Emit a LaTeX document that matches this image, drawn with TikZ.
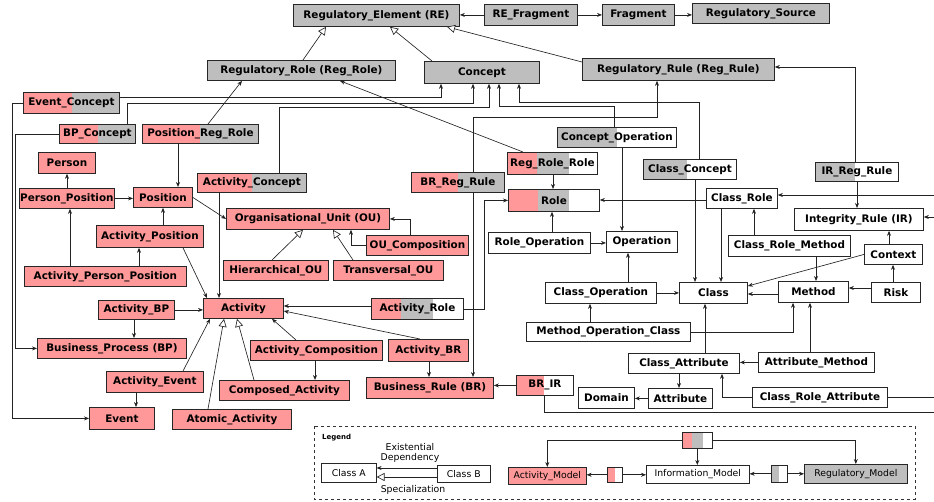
\documentclass[tikz,border=0pt]{standalone}
\usepackage{fontspec}
\setmainfont{DejaVu Sans}
\usetikzlibrary{arrows.meta}
\definecolor{redc}{RGB}{255,153,153}
\definecolor{grayc}{RGB}{190,190,190}
\definecolor{linec}{RGB}{35,35,35}
\newcommand\Bx[7]{\node[#2, minimum width={#5-#3}, minimum height={#6-#4}] (#1) at (#3,#4) {#7};}
\newcommand\Sp[6]{\fill[redc] (#1,#2) rectangle (#5,#4); \fill[grayc] (#5,#2) rectangle (#6,#4); \fill[white] (#6,#2) rectangle (#3,#4);}
\begin{document}
\begin{tikzpicture}[x=1pt,y=-1pt,
  box/.style={draw=black!85, line width=0.85pt, inner sep=0pt, anchor=north west, font=\bfseries\fontsize{10.4}{12}\selectfont},
  R/.style={box, fill=redc}, G/.style={box, fill=grayc}, W/.style={box, fill=white},
  lbox/.style={draw=black!85, line width=0.6pt, inner sep=0pt, anchor=north west, font=\fontsize{9.3}{11}\selectfont},
  lR/.style={lbox, fill=redc}, lG/.style={lbox, fill=grayc}, lW/.style={lbox, fill=white},
  ar/.style={-{Stealth[length=5pt,width=4pt]}, draw=linec, line width=0.65pt},
  ln/.style={draw=linec, line width=0.65pt},
  sp/.style={-{Triangle[length=8pt,width=8pt,fill=white]}, draw=linec, line width=0.65pt},
  ltxt/.style={font=\fontsize{9.3}{11}\selectfont, inner sep=0pt}]
\useasboundingbox (0,0) rectangle (934,502);
% ---------- boxes ----------
\Bx{RE}{G}{293}{4}{459}{26}{Regulatory\_Element (RE)}
\Bx{REF}{G}{484}{4}{577}{25}{RE\_Fragment}
\Bx{Frag}{G}{602}{4}{674}{25}{Fragment}
\Bx{RSrc}{G}{692}{3}{829}{23}{Regulatory\_Source}
\Bx{RRole}{G}{207}{60}{395}{80}{Regulatory\_Role (Reg\_Role)}
\Bx{Conc}{G}{424}{61}{539}{83}{Concept}
\Bx{RRule}{G}{582}{58}{774}{80}{Regulatory\_Rule (Reg\_Rule)}
\Sp{23}{92}{119}{113}{72}{119}
\Bx{EvC}{box}{23}{92}{119}{113}{Event\_Concept}
\Sp{59}{124}{135}{143}{98}{135}
\Bx{BPC}{box}{59}{124}{135}{143}{BP\_Concept}
\Sp{142}{124}{258}{143}{200}{258}
\Bx{PRR}{box}{142}{124}{258}{143}{Position\_Reg\_Role}
\Bx{Person}{R}{38}{152}{95}{173}{Person}
\Bx{PP}{R}{19}{188}{114}{208}{Person\_Position}
\Bx{Pos}{R}{133}{187}{192}{207}{Position}
\Sp{197}{173}{306}{192}{252}{306}
\Bx{ActC}{box}{197}{173}{306}{192}{Activity\_Concept}
\Bx{OU}{R}{226}{208}{389}{229}{Organisational\_Unit (OU)}
\Bx{AP}{R}{96}{225}{203}{247}{Activity\_Position}
\Bx{HOU}{R}{223}{260}{328}{280}{Hierarchical\_OU}
\Bx{TOU}{R}{333}{260}{443}{280}{Transversal\_OU}
\Bx{OUC}{R}{366}{235}{468}{255}{OU\_Composition}
\Bx{APP}{R}{24}{266}{186}{286}{Activity\_Person\_Position}
\Bx{ABP}{R}{98}{300}{174}{319}{Activity\_BP}
\Bx{Act}{R}{203}{298}{283}{318}{Activity}
\Bx{BP}{R}{37}{338}{186}{358}{Business\_Process (BP)}
\Bx{ACmp}{R}{250}{340}{382}{360}{Activity\_Composition}
\Bx{ABR}{R}{388}{339}{468}{361}{Activity\_BR}
\Bx{AEv}{R}{106}{371}{203}{392}{Activity\_Event}
\Bx{CmpA}{R}{219}{380}{349}{400}{Composed\_Activity}
\Bx{BR}{R}{366}{377}{493}{398}{Business\_Rule (BR)}
\Sp{516}{375}{573}{395}{544}{544}
\Bx{BRIR}{box}{516}{375}{573}{395}{BR\_IR}
\Bx{Ev}{R}{89}{407}{154}{429}{Event}
\Bx{AtA}{R}{172}{409}{291}{429}{Atomic\_Activity}
\Sp{371}{298}{463}{319}{401}{433}
\Bx{ARole}{box}{371}{298}{463}{319}{Activity\_Role}
\Sp{411}{172}{504}{192}{458}{504}
\Bx{BRRR}{box}{411}{172}{504}{192}{BR\_Reg\_Rule}
\Sp{507}{152}{597}{174}{537}{569}
\Bx{RRR}{box}{507}{152}{597}{174}{Reg\_Role\_Role}
\Sp{508}{189}{599}{211}{538}{569}
\Bx{Role}{box}{508}{189}{599}{211}{Role}
\Sp{557}{127}{676}{147}{557}{617}
\Bx{COp}{box}{557}{127}{676}{147}{Concept\_Operation}
\Sp{643}{159}{736}{179}{643}{687}
\Bx{CC}{box}{643}{159}{736}{179}{Class\_Concept}
\Sp{815}{162}{898}{181}{815}{855}
\Bx{IRRR}{box}{815}{162}{898}{181}{IR\_Reg\_Rule}
\Bx{CR}{W}{706}{188}{777}{208}{Class\_Role}
\Bx{IR}{W}{794}{208}{923}{230}{Integrity\_Rule (IR)}
\Bx{CRM}{W}{728}{235}{850}{256}{Class\_Role\_Method}
\Bx{Ctx}{W}{864}{244}{922}{264}{Context}
\Bx{ROp}{W}{488}{232}{590}{253}{Role\_Operation}
\Bx{Op}{W}{606}{231}{677}{252}{Operation}
\Bx{CO}{W}{545}{282}{656}{303}{Class\_Operation}
\Bx{Cls}{W}{679}{282}{747}{303}{Class}
\Bx{Meth}{W}{778}{281}{848}{302}{Method}
\Bx{Risk}{W}{871}{282}{920}{302}{Risk}
\Bx{MOC}{W}{526}{322}{690}{341}{Method\_Operation\_Class}
\Bx{CA}{W}{628}{353}{739}{373}{Class\_Attribute}
\Bx{AM}{W}{758}{352}{874}{372}{Attribute\_Method}
\Bx{Dom}{W}{578}{387}{634}{408}{Domain}
\Bx{Attr}{W}{648}{388}{712}{408}{Attribute}
\Bx{CRA}{W}{752}{387}{887}{407}{Class\_Role\_Attribute}
% free ends at the right edge
\coordinate (eCR) at (934,195);
\coordinate (eIR) at (934,217);
\coordinate (eCRA) at (934,397);
\coordinate (eBRIR) at (934,412);
% ---------- connectors ----------
\draw[ar] (REF.west) -- (RE.east|-REF.west);
\draw[ar] (REF.east) -- (Frag.west);
\draw[ar] (Frag.east) -- (RSrc.west|-Frag.east);
\draw[sp] (303,0|-RRole.north) -- (326,0|-RE.south);
\draw[sp] (432,0|-Conc.north) -- (390,0|-RE.south);
\draw[sp] (582,62) -- (447,0|-RE.south);
\draw[ar] (208,0|-PRR.north) -- (242,0|-RRole.south);
\draw[ar] (523,0|-RRR.north) -- (340,0|-RRole.south);
\draw[ar] (EvC.east|-0,97) -| (441,0|-Conc.south);
\draw[ar] (127,0|-BPC.north) -- (127,103) -| (473,0|-Conc.south);
\draw[ar] (279,0|-ActC.north) -- (279,107) -| (489,0|-Conc.south);
\draw[ar] (614,0|-COp.north) -- (614,106) -| (499,0|-Conc.south);
\draw[ar] (699,0|-CC.north) -- (699,102) -| (519,0|-Conc.south);
\draw[ar] (473,0|-BRRR.north) -- (473,117) -| (657,0|-RRule.south);
\draw[ar] (473,0|-BRRR.south) -- (473,0|-BR.north);
\draw[ar] (855,0|-IRRR.north) |- (RRule.east|-0,67);
\draw[ar] (857,0|-IRRR.south) -- (857,0|-IR.north);
\draw[ar] (EvC.west) -- (12,0|-EvC.west) |- (Ev.west);
\draw[ar] (BPC.west) -- (15,0|-BPC.west) |- (BP.west);
\draw[ar] (178,0|-PRR.south) -- (178,0|-Pos.north);
\draw[ar] (67,0|-PP.north) -- (67,0|-Person.south);
\draw[ar] (PP.east) -- (Pos.west|-PP.east);
\draw[ar] (Pos.east) -- (OU.west);
\draw[ar] (163,0|-AP.north) -- (163,0|-Pos.south);
\draw[ar] (183,0|-AP.south) -- (207,0|-Act.north);
\draw[ar] (70,0|-APP.north) -- (70,0|-PP.south);
\draw[ar] (139,0|-APP.north) -- (139,0|-AP.south);
\draw[ar] (219,0|-ActC.south) -- (219,0|-Act.north);
\draw[ar] (ABP.east) -- (Act.west|-ABP.east);
\draw[ar] (134,0|-ABP.south) -- (134,0|-BP.north);
\draw[ar] (183,0|-AEv.north) -- (210,0|-Act.south);
\draw[ar] (136,0|-AEv.south) -- (136,0|-Ev.north);
\draw[sp] (208,0|-AtA.north) -- (224,0|-Act.south);
\draw[sp] (254,0|-CmpA.north) -- (237,0|-Act.south);
\draw[ar] (296,0|-ACmp.north) -- (272,0|-Act.south);
\draw[ar] (315,0|-ACmp.south) -- (315,0|-CmpA.north);
\draw[ar] (420,0|-ABR.north) -- (Act.east|-0,311);
\draw[ar] (429,0|-ABR.south) -- (429,0|-BR.north);
\draw[ar] (ARole.west|-0,306) -- (Act.east|-0,306);
\draw[ar] (ARole.east) -- (484,0|-ARole.east) |- (Role.west);
\draw[ar] (BRIR.west) -- (BR.east|-BRIR.west);
\draw[ln] (544,0|-BRIR.south) |- (eBRIR);
\draw[sp] (272,0|-HOU.north) -- (303,0|-OU.south);
\draw[sp] (353,0|-TOU.north) -- (333,0|-OU.south);
\draw[ar] (OUC.west) -- (351,0|-OUC.west) -- (351,0|-OU.south);
\draw[ar] (410,0|-OUC.north) |- (OU.east);
\draw[ar] (553,0|-RRR.south) -- (553,0|-Role.north);
\draw[ar] (552,0|-ROp.north) -- (552,0|-Role.south);
\draw[ar] (ROp.east) -- (Op.west|-ROp.east);
\draw[ar] (622,0|-COp.south) -- (622,0|-Op.north);
\draw[ar] (695,0|-CC.south) -- (695,0|-Cls.north);
\draw[ar] (CR.west|-0,200) -- (Role.east|-0,200);
\draw[ar] (721,0|-CR.south) -- (721,0|-Cls.north);
\draw[ar] (eCR) -- (CR.east|-eCR);
\draw[ar] (eIR) -- (IR.east|-eIR);
\draw[ar] (754,0|-CRM.north) -- (754,0|-CR.south);
\draw[ar] (816,0|-CRM.south) -- (816,0|-Meth.north);
\draw[ar] (889,0|-Ctx.north) -- (889,0|-IR.south);
\draw[ar] (Ctx.west) -- (Cls.east|-0,286);
\draw[ar] (893,0|-Risk.north) -- (893,0|-Ctx.south);
\draw[ar] (Risk.west|-0,288) -- (Meth.east|-0,288);
\draw[ar] (Meth.west|-0,294) -- (Cls.east|-0,294);
\draw[ar] (CO.east) -- (Cls.west|-CO.east);
\draw[ar] (628,0|-CO.north) -- (628,0|-Op.south);
\draw[ar] (590,0|-MOC.north) -- (590,0|-CO.south);
\draw[ar] (MOC.east) -| (793,0|-Meth.south);
\draw[ar] (705,0|-CA.north) -- (705,0|-Cls.south);
\draw[ar] (810,0|-AM.north) -- (810,0|-Meth.south);
\draw[ar] (AM.west) -- (CA.east|-AM.west);
\draw[ar] (679,0|-CA.south) -- (679,0|-Attr.north);
\draw[ar] (Attr.west) -- (Dom.east|-Attr.west);
\draw[ar] (CRA.west) -| (722,0|-CA.south);
\draw[ln] (CRA.east) -- (eCRA|-CRA.east);
% ---------- legend ----------
\draw[draw=black!80, line width=0.6pt, dashed] (314,426) rectangle (915,499);
\node[anchor=west, inner sep=0pt, font=\bfseries\fontsize{7}{8}\selectfont] (leg) at (322,438) {Legend};
\Bx{ClA}{lW}{321}{463}{376}{482}{Class A}
\Bx{ClB}{lW}{437}{465}{490}{482}{Class B}
\node[ltxt] (t1) at (410,447) {Existential};
\node[ltxt] (t2) at (410,458) {Dependency};
\node[ltxt] (t3) at (413,490) {Specialization};
\draw[ar] (ClB.west|-0,468) -- (ClA.east|-0,468);
\draw[sp] (ClB.west|-0,477) -- (ClA.east|-0,477);
\Bx{LAM}{lR}{508}{467}{586}{484}{Activity\_Model}
\Sp{607}{467}{622}{482}{615}{615}
\Bx{LRed}{lbox}{607}{467}{622}{482}{}
\Bx{LIM}{lW}{646}{465}{749}{483}{Information\_Model}
\Sp{771}{465}{787}{482}{771}{779}
\Bx{LGray}{lbox}{771}{465}{787}{482}{}
\Bx{LRM}{lG}{804}{464}{907}{483}{Regulatory\_Model}
\Sp{682}{432}{712}{448}{692}{703}
\Bx{LTop}{lbox}{682}{432}{712}{448}{}
\draw[ar] (LTop.west) -| (LAM.north);
\draw[ar] (LTop.east) -| (LRM.north);
\draw[ar] (LTop.south) -- (LIM.north-|LTop.south);
\draw[ar] (LRed.west) -- (LAM.east|-LRed.west);
\draw[ar] (LRed.east) -- (LIM.west|-LRed.east);
\draw[ar] (LGray.west) -- (LIM.east|-LGray.west);
\draw[ar] (LGray.east) -- (LRM.west|-LGray.east);
\end{tikzpicture}
\end{document}
